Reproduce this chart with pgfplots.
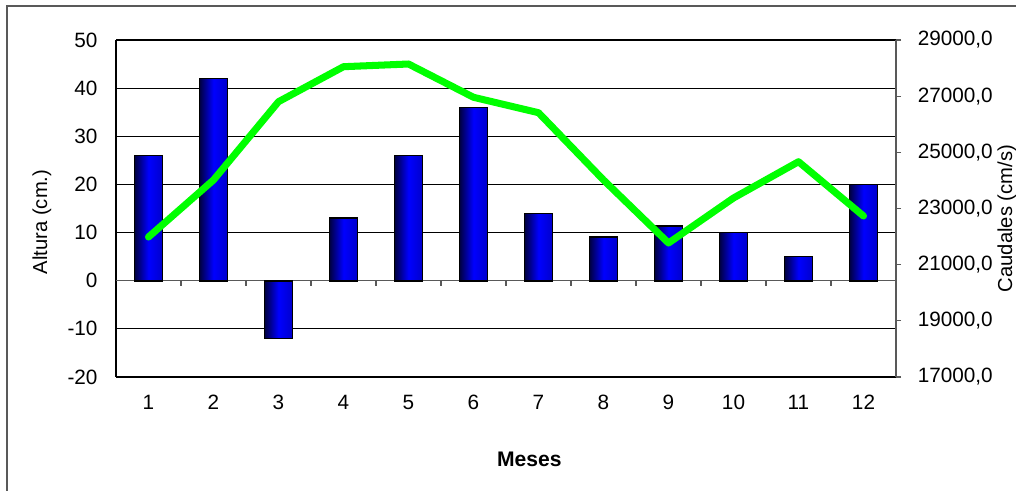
\documentclass[border=0pt]{standalone}
\usepackage{pgfplots}
\pgfplotsset{compat=1.18}
\usepackage{fontspec}
\setmainfont{Liberation Sans}
\pgfplotsset{
  mybar/.style={ybar, bar width=0.43, bar shift=0pt, draw=black, line width=0.9pt,
    left color=blue!25!black, right color=blue!80!black, middle color=blue, forget plot},
}
\begin{document}
\begin{tikzpicture}
\useasboundingbox (0,0) rectangle (20.32cm,9.82cm);
\draw[gray!70!black, line width=0.6pt] (0.14cm,-1cm) -- (0.14cm,9.70cm) -- (21cm,9.70cm);
\begin{axis}[
  at={(2.32cm,2.28cm)}, anchor=south west,
  scale only axis, width=15.6cm, height=6.74cm,
  xmin=0.5, xmax=12.5, ymin=-20, ymax=50,
  xtick={1,...,12}, ytick={-20,-10,...,50},
  major tick length=0pt,
  ymajorgrids, grid style={black, line width=0.6pt},
  axis line style={black, line width=0.8pt},
  axis y line*=left, axis x line*=box,
  /pgf/number format/assume math mode=true,
  tick label style={font=\fontsize{11.8}{13}\selectfont},
  xticklabel style={yshift=-7pt},
  yticklabel style={xshift=-7pt},
  ylabel={Altura (cm.)},
  ylabel style={font=\fontsize{11.5}{13}\selectfont, at={(rel axis cs:-0.095,0.46)}, anchor=center},
  xlabel={\textbf{Meses}},
  xlabel style={font=\fontsize{12}{14}\selectfont, at={(rel axis cs:0.53,-0.243)}, anchor=center},
  clip=false,
]
\draw[gray!70!black, line width=0.7pt] (axis cs:0.5,0) -- (axis cs:12.5,0);
\pgfplotsinvokeforeach{1.5,2.5,3.5,4.5,5.5,6.5,7.5,8.5,9.5,10.5,11.5}{
  \draw[gray!70!black, line width=0.6pt] (axis cs:#1,0) -- ([yshift=-0.1cm]axis cs:#1,0);
}
\addplot[mybar] coordinates {(1,26)};
\addplot[mybar] coordinates {(2,42)};
\addplot[mybar] coordinates {(3,-12)};
\addplot[mybar] coordinates {(4,13)};
\addplot[mybar] coordinates {(5,26)};
\addplot[mybar] coordinates {(6,36)};
\addplot[mybar] coordinates {(7,14)};
\addplot[mybar] coordinates {(8,9.1)};
\addplot[mybar] coordinates {(9,11.4)};
\addplot[mybar] coordinates {(10,10)};
\addplot[mybar] coordinates {(11,5)};
\addplot[mybar] coordinates {(12,20)};
\end{axis}
\begin{axis}[
  at={(2.32cm,2.28cm)}, anchor=south west,
  scale only axis, width=15.6cm, height=6.74cm,
  xmin=0.5, xmax=12.5, ymin=17000, ymax=29000,
  ytick={17000,19000,...,29000},
  scaled y ticks=false,
  axis x line=none, axis y line*=right,
  axis line style={gray!70!black, line width=0.8pt},
  tick style={gray!70!black, line width=0.6pt},
  tick align=outside, major tick length=0.1cm,
  yticklabel={\pgfmathprintnumber[assume math mode=true, fixed, fixed zerofill, precision=1, use comma, 1000 sep={}]{\tick}},
  tick label style={font=\fontsize{11.8}{13}\selectfont},
  yticklabel style={xshift=6pt},
  ylabel={Caudales (cm/s)},
  ylabel style={font=\fontsize{11.5}{13}\selectfont, at={(rel axis cs:1.142,0.47)}, anchor=center, rotate=0},
  clip=false,
]
\addplot[color={rgb,255:red,0;green,255;blue,0}, line width=4pt, line join=round, line cap=round]
  coordinates {(1,21985) (2,24015) (3,26803) (4,28049) (5,28145) (6,26960) (7,26411) (8,24015) (9,21771) (10,23374) (11,24666) (12,22733)};
\end{axis}
\end{tikzpicture}
\end{document}
